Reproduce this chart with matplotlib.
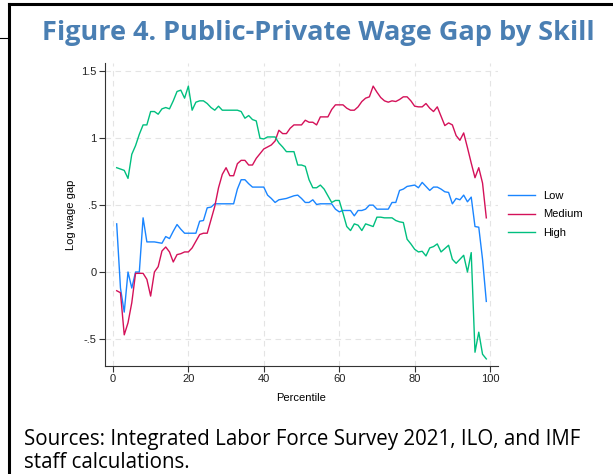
import matplotlib
matplotlib.use("Agg")
import matplotlib.pyplot as plt
from matplotlib.lines import Line2D

# percentiles 1..99 and log wage gap by skill group
percentile = list(range(1, 100))

low = [0.36, -0.12, -0.30, 0.00, -0.12, 0.00, 0.00, 0.405, 0.225, 0.225,
       0.225, 0.22, 0.215, 0.265, 0.25, 0.305, 0.355, 0.32, 0.29, 0.29,
       0.29, 0.29, 0.38, 0.385, 0.48, 0.485, 0.51, 0.51, 0.51, 0.51,
       0.51, 0.51, 0.62, 0.69, 0.69, 0.66, 0.635, 0.635, 0.635, 0.635,
       0.575, 0.55, 0.52, 0.54, 0.545, 0.55, 0.56, 0.57, 0.575, 0.55,
       0.52, 0.52, 0.54, 0.505, 0.51, 0.51, 0.51, 0.51, 0.47, 0.45,
       0.46, 0.46, 0.46, 0.42, 0.46, 0.46, 0.47, 0.50, 0.50, 0.47,
       0.47, 0.47, 0.47, 0.52, 0.52, 0.61, 0.62, 0.64, 0.645, 0.65,
       0.63, 0.67, 0.64, 0.61, 0.635, 0.635, 0.62, 0.60, 0.595, 0.51,
       0.55, 0.54, 0.575, 0.525, 0.56, 0.34, 0.335, 0.095, -0.22]

medium = [-0.14, -0.155, -0.47, -0.38, -0.23, -0.01, -0.01, -0.01, -0.055, -0.18,
          0.00, 0.04, 0.157, 0.187, 0.15, 0.075, 0.13, 0.137, 0.15, 0.15,
          0.18, 0.23, 0.28, 0.29, 0.29, 0.39, 0.49, 0.63, 0.73, 0.78,
          0.72, 0.72, 0.81, 0.835, 0.835, 0.80, 0.80, 0.85, 0.885, 0.92,
          0.935, 0.95, 0.98, 1.06, 1.035, 1.035, 1.075, 1.10, 1.10, 1.10,
          1.135, 1.12, 1.12, 1.10, 1.16, 1.16, 1.16, 1.215, 1.25, 1.25,
          1.25, 1.225, 1.21, 1.21, 1.235, 1.275, 1.30, 1.31, 1.39, 1.345,
          1.305, 1.28, 1.27, 1.28, 1.275, 1.29, 1.31, 1.31, 1.28, 1.24,
          1.235, 1.235, 1.26, 1.225, 1.20, 1.235, 1.165, 1.095, 1.115, 1.10,
          1.02, 0.985, 1.04, 0.93, 0.815, 0.705, 0.78, 0.665, 0.405]

high = [0.78, 0.77, 0.76, 0.70, 0.88, 0.945, 1.03, 1.10, 1.10, 1.20,
        1.20, 1.18, 1.22, 1.23, 1.22, 1.28, 1.35, 1.36, 1.30, 1.39,
        1.21, 1.27, 1.28, 1.28, 1.26, 1.23, 1.21, 1.24, 1.21, 1.21,
        1.21, 1.21, 1.21, 1.20, 1.15, 1.17, 1.14, 1.13, 1.00, 0.995,
        1.01, 1.01, 1.01, 0.965, 0.935, 0.90, 0.90, 0.90, 0.80, 0.80,
        0.79, 0.69, 0.63, 0.63, 0.65, 0.62, 0.57, 0.52, 0.535, 0.535,
        0.44, 0.34, 0.31, 0.36, 0.35, 0.31, 0.36, 0.35, 0.34, 0.41,
        0.41, 0.405, 0.405, 0.405, 0.385, 0.375, 0.37, 0.245, 0.21, 0.17,
        0.15, 0.155, 0.12, 0.18, 0.19, 0.21, 0.15, 0.175, 0.20, 0.095,
        0.065, 0.095, 0.125, 0.0, 0.145, -0.60, -0.45, -0.615, -0.65]

series_names = ["Low", "Medium", "High"]
series_colors = ["#1a85ff", "#d41159", "#00bf7f"]

y_ticks = [-0.5, 0, 0.5, 1, 1.5]
y_tick_labels = ["-.5", "0", ".5", "1", "1.5"]
x_ticks = [0, 20, 40, 60, 80, 100]

fig = plt.figure(figsize=(6.13, 4.74), dpi=100)

# black frame along the top and left edges
fig.add_artist(Line2D([9 / 613, 1.0], [1 - 4 / 474, 1 - 4 / 474],
                      transform=fig.transFigure, color="black", lw=2.2))
fig.add_artist(Line2D([9 / 613, 9 / 613], [0.0, 1 - 4 / 474],
                      transform=fig.transFigure, color="black", lw=2.2))
fig.add_artist(Line2D([0.0, 7 / 613], [1 - 38 / 474, 1 - 38 / 474],
                      transform=fig.transFigure, color="black", lw=0.8))

fig.text(0.52, 1 - 33 / 474, "Figure 4. Public-Private Wage Gap by Skill",
         ha="center", va="center", fontsize=19.5, fontweight="bold",
         color="#4a7fb3", family="Open Sans")

ax = fig.add_axes([105 / 613, 1 - 366 / 474, 393 / 613, 303 / 474])

for vals, name, col in zip([low, medium, high], series_names, series_colors):
    ax.plot(percentile, vals, color=col, lw=1.0, label=name)

ax.set_xlim(-2.1, 102.1)
ax.set_ylim(-0.703, 1.563)
ax.set_xticks(x_ticks)
ax.set_yticks(y_ticks)
ax.set_yticklabels(y_tick_labels)

ax.grid(True, color="#e4e4e4", lw=0.8, linestyle=(0, (5, 4)))
ax.set_axisbelow(True)
for side in ["top", "right"]:
    ax.spines[side].set_visible(False)
for side in ["left", "bottom"]:
    ax.spines[side].set_color("#333333")
    ax.spines[side].set_linewidth(0.8)
ax.tick_params(direction="out", length=4, width=0.8, color="#333333",
               labelsize=8, labelcolor="#222222", pad=2)
for lab in ax.get_xticklabels() + ax.get_yticklabels():
    lab.set_family("Liberation Sans")

ax.set_xlabel("Percentile", fontsize=8, family="Liberation Sans", labelpad=6)
ax.set_ylabel("Log wage gap", fontsize=8, family="Liberation Sans", labelpad=4)

leg = ax.legend(loc="center left", bbox_to_anchor=(1.0, 0.5), frameon=False,
                prop={"family": "Liberation Sans", "size": 8},
                handlelength=2.4, handletextpad=0.8, labelspacing=0.75,
                borderaxespad=0.5)

fig.text(24 / 613, 1 - 440 / 474,
         "Sources: Integrated Labor Force Survey 2021, ILO, and IMF",
         ha="left", va="center", fontsize=14.8, family="Open Sans", color="black")
fig.text(24 / 613, 1 - 463 / 474, "staff calculations.",
         ha="left", va="center", fontsize=14.8, family="Open Sans", color="black")

fig.savefig("out.png", dpi=100)
